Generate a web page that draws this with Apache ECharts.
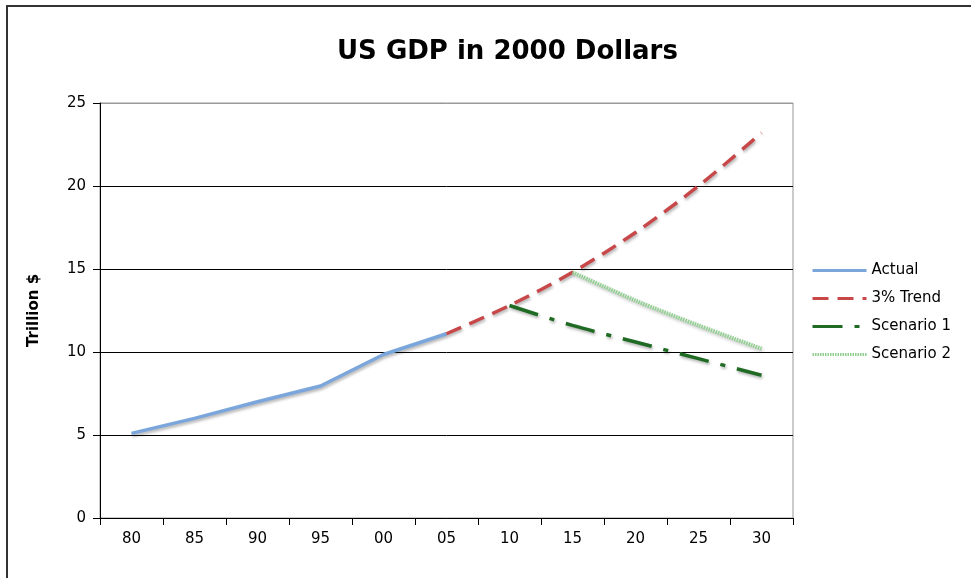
<!DOCTYPE html>
<html><head><meta charset="utf-8">
<script src="https://cdn.jsdelivr.net/npm/echarts@6/dist/echarts.min.js"></script>
<style>html,body{margin:0;padding:0;background:#fff}#c{width:971px;height:578px}</style>
</head><body><div id="c"></div>
<script>
var categories = ['80','85','90','95','00','05','10','15','20','25','30'];
var actual    = [5.1, 6.0, 7.0, 7.95, 9.85, 11.1, null, null, null, null, null];
var trend     = [null, null, null, null, null, 11.1, 12.8, 14.8, 17.2, 20.0, 23.2];
var scenario1 = [null, null, null, null, null, null, 12.8, 11.6, 10.6, 9.6, 8.6];
var scenario2 = [null, null, null, null, null, null, null, 14.8, 13.1, 11.6, 10.2];
var yTicks = [0, 5, 10, 15, 20, 25];

var chart = echarts.init(document.getElementById('c'));
var shadow = {shadowColor:'rgba(0,0,0,0.3)', shadowBlur:3, shadowOffsetY:2, shadowOffsetX:1};
chart.setOption({
  animation:false,
  backgroundColor:'#fff',
  textStyle:{fontFamily:'DejaVu Sans'},
  title:{text:'US GDP in 2000 Dollars', left:332, top:34,
    textStyle:{fontSize:26, fontWeight:'bold', color:'#000', fontFamily:'DejaVu Sans'}},
  graphic:[{type:'rect', shape:{x:7, y:6, width:1000, height:700}, style:{fill:null, stroke:'#333', lineWidth:2}, silent:true}],
  grid:{left:100, right:178, top:103, bottom:60, show:true, borderColor:'#999', borderWidth:1},
  legend:{orient:'vertical', left:806, top:258, itemWidth:54, itemHeight:14, itemGap:13,
    itemStyle:{opacity:0},
    lineStyle:{width:3},
    textStyle:{fontSize:15, color:'#000'},
    data:['Actual','3% Trend','Scenario 1','Scenario 2']},
  xAxis:{type:'category', data:categories, boundaryGap:true,
    axisLine:{lineStyle:{color:'#000', width:1}},
    axisTick:{show:true, length:7, lineStyle:{color:'#000'}},
    axisLabel:{fontSize:15, color:'#000', margin:14}},
  yAxis:{type:'value', min:yTicks[0], max:yTicks[yTicks.length-1], interval:5,
    name:'Trillion $', nameLocation:'middle', nameGap:58,
    nameTextStyle:{fontSize:15, fontWeight:'bold', color:'#000'},
    axisLine:{show:true, lineStyle:{color:'#000'}},
    axisTick:{show:true, length:7, lineStyle:{color:'#000'}},
    axisLabel:{fontSize:15, color:'#000', margin:14},
    splitLine:{lineStyle:{color:['#000','#000','#000','#000','#000','#999'], width:1}}},
  series:[
    {name:'Actual', type:'line', data:actual, symbol:'none', connectNulls:false,
      lineStyle:Object.assign({color:'#7aa6dc', width:3.5}, shadow), itemStyle:{color:'#7aa6dc'}},
    {name:'3% Trend', type:'line', data:trend, symbol:'none', smooth:0.3,
      lineStyle:Object.assign({color:'#c8484a', width:3.5, type:[16,9]}, shadow), itemStyle:{color:'#c8484a'}},
    {name:'Scenario 1', type:'line', data:scenario1, symbol:'none', smooth:0.3,
      lineStyle:Object.assign({color:'#1f6b23', width:3.5, type:[30,12,5,12]}, shadow), itemStyle:{color:'#1f6b23'}},
    {name:'Scenario 2', type:'line', data:scenario2, symbol:'none', smooth:0.3,
      lineStyle:Object.assign({color:'#8fd08f', width:4, type:[1.5,1]}, shadow), itemStyle:{color:'#8fd08f'}}
  ]
});
</script></body></html>
